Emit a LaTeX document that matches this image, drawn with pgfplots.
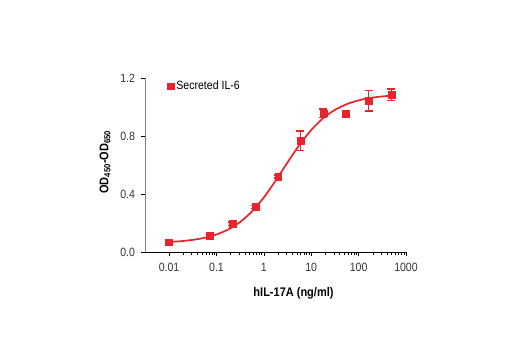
\documentclass[border=0pt]{standalone}
\usepackage{pgfplots}
\pgfplotsset{compat=1.18}
\usepackage{fontspec}
\setmainfont{Liberation Sans}[FakeStretch=0.88]
\definecolor{cred}{HTML}{E8232B}
\begin{document}
\begin{tikzpicture}[x=1pt,y=1pt]
\begin{axis}[
  at={(0,0)}, anchor=south west,
  scale only axis, width=261pt, height=174pt,
  xmode=log, xmin=0.0031, xmax=1000, ymin=0, ymax=1.2,
  axis x line=bottom, axis y line=left,
  x axis line style={-, black, line width=0.8pt},
  y axis line style={-, gray, line width=0.8pt},
  xtick={0.01,0.1,1,10,100,1000},
  xticklabels={0.01,0.1,1,10,100,1000},
  ytick={0,0.4,0.8,1.2},
  yticklabel style={xshift=-2pt, /pgf/number format/.cd, fixed, fixed zerofill, precision=1},
  /pgf/number format/assume math mode=true,
  tick style={black, line width=0.6pt},
  tick align=outside, major tick length=4.5pt,
  minor tick num=0, log ticks with fixed point,
  ticklabel style={font=\fontsize{12}{14}\selectfont, text=black!80},
  xticklabel style={yshift=-3pt},
  xlabel={\textbf{hIL-17A (ng/ml)}},
  ylabel={\textbf{OD\textsubscript{450}-OD\textsubscript{650}}},
  label style={font=\fontsize{12.5}{14}\selectfont},
  xlabel style={yshift=-9pt, xshift=18pt},
  ylabel style={yshift=3pt, xshift=3pt},
  legend style={draw=none, fill=none, at={(0.082,1.0)}, anchor=north west, font=\fontsize{12}{14}\selectfont, inner sep=1pt},
  legend image post style={xshift=-5pt},
  legend cell align=left,
  clip=false,
]
\addplot[cred, line width=1.7pt, smooth, forget plot] coordinates {
(0.01,0.0691) (0.01778,0.0747) (0.03162,0.0837) (0.05623,0.0981) (0.1,0.1208)
(0.1778,0.1555) (0.3162,0.207) (0.5623,0.2805) (1,0.3766) (1.778,0.4926)
(3.162,0.6178) (5.623,0.738) (10,0.8415) (17.78,0.922) (31.62,0.980)
(56.23,1.0197) (100,1.0457) (177.8,1.0624) (316.2,1.0729) (501,1.0784)
};
\addplot[cred, only marks, mark=square*, mark size=3.4pt,
  error bars/.cd, y dir=both, y explicit, error mark options={rotate=90, mark size=4pt, line width=1.4pt, cred},
  error bar style={line width=1.4pt, cred}]
coordinates {
(0.01,0.067) +- (0,0.008)
(0.073,0.113) +- (0,0.01)
(0.216,0.195) +- (0,0.012)
(0.66,0.31) +- (0,0.012)
(2.0,0.52) +- (0,0.01)
(5.9,0.768) +- (0,0.067)
(18,0.957) +- (0,0.03)
(54,0.955) +- (0,0.022)
(163,1.043) +- (0,0.07)
(490,1.083) +- (0,0.04)
};
\addlegendentry{Secreted IL-6}
\end{axis}
\path[use as bounding box] (-145,-98) rectangle (375,252);
\end{tikzpicture}
\end{document}
